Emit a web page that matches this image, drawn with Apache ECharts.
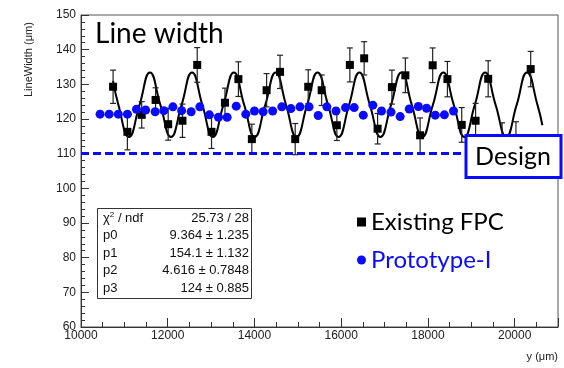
<!DOCTYPE html>
<html>
<head>
<meta charset="utf-8">
<script src="https://cdn.jsdelivr.net/npm/echarts@6/dist/echarts.min.js"></script>
<style>
  html, body { margin: 0; padding: 0; background: #fff; }
  #chart { width: 564px; height: 368px; }
</style>
</head>
<body>
<div id="chart"></div>
<script>
// Existing FPC: position (um), line width (um), error
const fpcX = [10740, 11070, 11400, 11720, 12010, 12340, 12680, 13010, 13320, 13630, 13940,
  14280, 14590, 14940, 15240, 15550, 15900, 16200, 16530, 16840, 17170, 17480, 17820,
  18110, 18450, 18780, 19100, 19390, 19710, 20030, 20370]
const fpcY = [129.3, 116.3, 121.2, 125.5, 118.5, 119.5, 135.6, 116.3, 124.7, 131.5, 114.2,
  128.3, 133.6, 114.2, 129.3, 128.3, 118.2, 135.6, 137.5, 117.2, 129.2, 132.6, 115.3,
  135.5, 131.5, 118.3, 119.5, 131.6, 113.9, 114.2, 134.4]
const fpcErr = [4.8, 5.2, 3.8, 3.5, 4.6, 4.8, 5.0, 4.8, 4.2, 5.0, 4.3,
  4.8, 4.8, 4.5, 4.9, 4.4, 4.4, 4.9, 4.8, 4.4, 4.9, 5.0, 5.0,
  5.0, 5.1, 5.0, 5.0, 5.2, 5.0, 5.0, 5.1]

// Prototype-I
const protoX = [10440, 10650, 10860, 11070, 11280, 11490, 11710, 11910, 12120, 12320,
  12540, 12740, 12960, 13170, 13370, 13580, 13800, 14000, 14200, 14420,
  14630, 14840, 15050, 15260, 15470, 15670, 15880, 16100, 16300, 16510,
  16730, 16930, 17150, 17360, 17570, 17780, 17970, 18170, 18380, 18590]
const protoY = [121.4, 121.4, 121.4, 121.4, 122.8, 122.6, 122.1, 122.4, 123.5, 122.4,
  122.1, 123.5, 121.2, 120.5, 120.5, 123.7, 121.4, 122.3, 122.1, 122.3,
  123.5, 123.0, 123.5, 123.5, 121.0, 123.5, 122.3, 123.3, 123.3, 121.1,
  124.0, 122.3, 122.0, 120.7, 122.9, 123.6, 123.1, 121.1, 121.2, 122.3]
const protoErr = [0.8, 0.8, 0.8, 0.8, 0.8, 0.8, 0.8, 0.8, 0.8, 0.8,
  0.8, 0.8, 0.8, 0.8, 0.8, 0.8, 0.8, 0.8, 0.8, 0.8,
  0.8, 0.8, 0.8, 0.8, 0.8, 0.8, 0.8, 0.8, 0.8, 0.8,
  0.8, 0.8, 0.8, 0.8, 0.8, 0.8, 0.8, 0.8, 0.8, 0.8]

// fit curve (peaks, valleys, mid crossings)
const fitX = [10740, 10864, 11105, 11348, 11590, 11832, 12075, 12318, 12560, 12800,
  13040, 13283, 13525, 13765, 14005, 14248, 14490, 14730, 14970, 15213,
  15455, 15698, 15940, 16180, 16420, 16663, 16905, 17148, 17390, 17630,
  17870, 18113, 18355, 18598, 18840, 19080, 19320, 19563, 19805, 20045,
  20285, 20528, 20640]
const fitY = [131.0, 124, 114.8, 124, 133.4, 124, 114.8, 124, 133.4, 124,
  114.8, 124, 133.4, 124, 114.8, 124, 133.4, 124, 114.8, 124,
  133.4, 124, 114.8, 124, 133.4, 124, 114.8, 124, 133.4, 124,
  114.8, 124, 133.4, 124, 114.8, 124, 133.4, 124, 114.8, 124,
  133.4, 124, 118.2]

const designWidth = 110

const statLabels = ['χ{sup|2} / ndf', 'p0', 'p1', 'p2', 'p3']
const statValues = ['25.73 / 28', '9.364 ± 1.235', '154.1 ± 1.132', '4.616 ± 0.7848', '124 ± 0.885']

const yTicks = [60, 70, 80, 90, 100, 110, 120, 130, 140, 150]
const xTicks = [10000, 12000, 14000, 16000, 18000, 20000]

const BLUE = '#0a0aff'
const rootFont = 'Liberation Sans'
const slideFont = 'Lato'

const zip3 = (a, b, c) => a.map((v, i) => [v, b[i], c[i]])

const errorBars = (cap, color) => (params, api) => {
  const x = api.value(0)
  const y = api.value(1)
  const e = api.value(2)
  const top = api.coord([x, y + e])
  const bot = api.coord([x, y - e])
  const style = { stroke: color, lineWidth: 1.2 }
  return {
    type: 'group',
    children: [
      { type: 'line', shape: { x1: top[0], y1: top[1], x2: bot[0], y2: bot[1] }, style },
      { type: 'line', shape: { x1: top[0] - cap, y1: top[1], x2: top[0] + cap, y2: top[1] }, style },
      { type: 'line', shape: { x1: bot[0] - cap, y1: bot[1], x2: bot[0] + cap, y2: bot[1] }, style },
    ],
  }
}

const chart = echarts.init(document.getElementById('chart'))

const statsTop = 209
const rowH = 17.6

const option = {
  animation: false,
  backgroundColor: '#fff',
  grid: {
    left: 81, right: 6, top: 15, bottom: 41,
    show: true, borderColor: '#555', borderWidth: 1,
  },
  legend: {
    left: 352, top: 205, orient: 'vertical', itemGap: 14,
    itemWidth: 9, itemHeight: 9, selectedMode: false,
    textStyle: { fontFamily: slideFont, fontSize: 24 },
    data: [
      { name: 'Existing FPC', icon: 'rect', textStyle: { color: '#000' } },
      { name: 'Prototype-I', icon: 'circle', textStyle: { color: BLUE } },
    ],
  },
  xAxis: {
    type: 'value', min: 10000, max: 21000, interval: 2000,
    axisLine: { lineStyle: { color: '#333' } },
    axisTick: { inside: true, length: 9, lineStyle: { color: '#333' } },
    minorTick: { show: true, splitNumber: 4, length: 5, lineStyle: { color: '#333' } },
    splitLine: { show: false },
    axisLabel: {
      margin: 3, fontFamily: rootFont, fontSize: 12, color: '#222',
      showMaxLabel: false,
      formatter: (v) => (xTicks.includes(v) ? String(v) : ''),
    },
  },
  yAxis: {
    type: 'value', min: yTicks[0], max: yTicks[yTicks.length - 1], interval: 10,
    axisLine: { show: true, lineStyle: { color: '#333' } },
    axisTick: { show: true, inside: true, length: 8, lineStyle: { color: '#333' } },
    minorTick: { show: true, splitNumber: 5, length: 4, lineStyle: { color: '#333' } },
    splitLine: { show: false },
    axisLabel: { margin: 5, fontFamily: rootFont, fontSize: 12, color: '#222' },
  },
  series: [
    {
      name: 'fit', type: 'line', smooth: 0.5, showSymbol: false,
      data: fitX.map((x, i) => [x, fitY[i]]),
      lineStyle: { color: '#000', width: 2 },
      z: 3,
      markLine: {
        silent: true, symbol: 'none', label: { show: false },
        lineStyle: { color: BLUE, width: 3, type: [8, 4] },
        data: [{ yAxis: designWidth }],
      },
    },
    {
      name: 'fpcErr', type: 'custom', renderItem: errorBars(3, '#222'),
      data: zip3(fpcX, fpcY, fpcErr), z: 4,
    },
    {
      name: 'Existing FPC', type: 'scatter', symbol: 'rect', symbolSize: 8,
      itemStyle: { color: '#000', opacity: 1 },
      data: fpcX.map((x, i) => [x, fpcY[i]]), z: 5,
    },
    {
      name: 'protoErr', type: 'custom', renderItem: errorBars(2.5, '#555'),
      data: zip3(protoX, protoY, protoErr), z: 4,
    },
    {
      name: 'Prototype-I', type: 'scatter', symbol: 'circle', symbolSize: 9,
      itemStyle: { color: BLUE, opacity: 1 },
      data: protoX.map((x, i) => [x, protoY[i]]), z: 6,
    },
  ],
  graphic: [
    {
      type: 'text', left: 95, top: 20, z: 100,
      style: { text: 'Line width', fontFamily: slideFont, fontSize: 28, fill: '#000' },
    },
    {
      type: 'text', x: 29, y: 97, rotation: Math.PI / 2, z: 100,
      style: {
        text: 'LineWidth (μm)', fontFamily: rootFont, fontSize: 11, fill: '#222',
        align: 'left', verticalAlign: 'middle',
      },
    },
    {
      type: 'text', x: 558, y: 357, z: 100,
      style: {
        text: 'y (μm)', fontFamily: rootFont, fontSize: 11, fill: '#222',
        align: 'right', verticalAlign: 'middle',
      },
    },
    {
      type: 'rect', z: 100,
      shape: { x: 466, y: 135.5, width: 95, height: 42 },
      style: { fill: '#fff', stroke: BLUE, lineWidth: 3 },
    },
    {
      type: 'text', x: 513, y: 157, z: 101,
      style: {
        text: 'Design', fontFamily: slideFont, fontSize: 25, fill: '#000',
        align: 'center', verticalAlign: 'middle',
      },
    },
    {
      type: 'rect', z: 100,
      shape: { x: 97.5, y: 208.5, width: 154, height: 90 },
      style: { fill: '#fff', stroke: '#333', lineWidth: 1 },
    },
    ...statLabels.map((t, i) => ({
      type: 'text', x: 103, y: statsTop + 9 + i * rowH, z: 101,
      style: {
        text: t, fontFamily: rootFont, fontSize: 13, fill: '#111',
        align: 'left', verticalAlign: 'middle',
        rich: { sup: { fontSize: 8, verticalAlign: 'top', padding: [0, 0, 6, 0], fontFamily: rootFont } },
      },
    })),
    ...statValues.map((t, i) => ({
      type: 'text', x: 249, y: statsTop + 9 + i * rowH, z: 101,
      style: {
        text: t, fontFamily: rootFont, fontSize: 13, fill: '#111',
        align: 'right', verticalAlign: 'middle',
      },
    })),
  ],
}

chart.setOption(option)
</script>
</body>
</html>
